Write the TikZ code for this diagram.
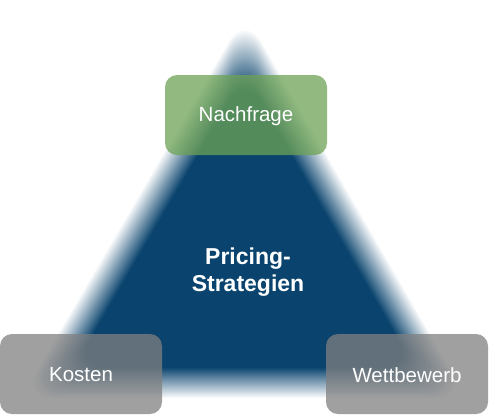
\documentclass[tikz,border=0pt]{standalone}
\usepackage{fontspec}
\setmainfont{Liberation Sans}
\usetikzlibrary{calc}
\definecolor{triblue}{RGB}{10,68,110}
\definecolor{boxgreen}{RGB}{109,163,85}
\definecolor{boxgray}{RGB}{128,128,128}
\begin{document}
\begin{tikzpicture}[x=1pt,y=-1pt,
  pbox/.style={rounded corners=12pt, opacity=0.75, draw=none},
  plabel/.style={text=white, font=\fontsize{20.5}{24}\selectfont, inner sep=0pt},
  clabel/.style={text=white, font=\bfseries\fontsize{23}{27}\selectfont, align=center, inner sep=0pt}]
\useasboundingbox (0,0) rectangle (494,415);
% blurred triangle: layers scaled about the incentre
\coordinate (I) at (244.5,269.6);
\coordinate (TA) at (245,44);
\coordinate (TB) at (47,383);
\coordinate (TC) at (441,383);
\def\N{30}
\foreach \k in {1,...,\N}{
  \pgfmathsetmacro{\op}{1/(\N-\k+1)}
  \pgfmathsetmacro{\f}{1+15/113.4*(1-2*(\k-1)/(\N-1))}
  \fill[triblue, opacity=\op, rounded corners=32pt]
    ($(I)!\f!(TA)$) -- ($(I)!\f!(TB)$) -- ($(I)!\f!(TC)$) -- cycle;
}
\node[clabel] (center) at (248,272) {Pricing-\\Strategien};
% boxes
\path[pbox, fill=boxgreen] (165,75) rectangle (327,155);
\path[pbox, fill=boxgray] (0,334) rectangle (162,414);
\path[pbox, fill=boxgray] (326,334) rectangle (488,414);
\node[plabel] (nachfrage) at (246,116) {Nachfrage};
\node[plabel] (kosten) at (81,375) {Kosten};
\node[plabel] (wettbewerb) at (407,375) {Wettbewerb};
\end{tikzpicture}
\end{document}
